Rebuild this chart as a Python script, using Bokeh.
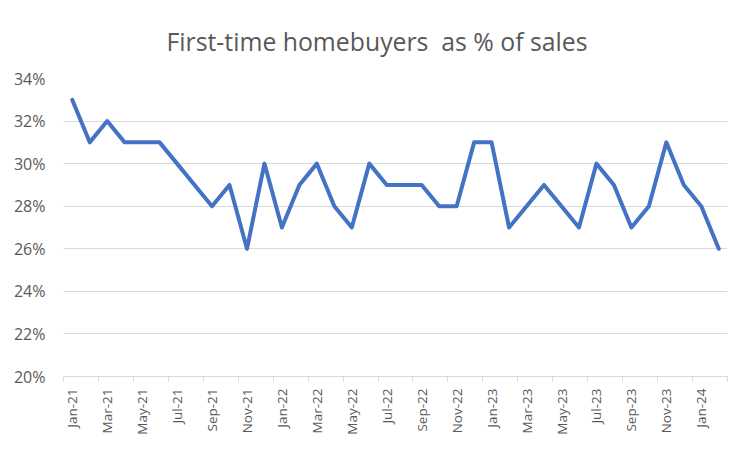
import math
from bokeh.plotting import figure
from bokeh.models import FixedTicker, NumeralTickFormatter, Range1d, ColumnDataSource
from bokeh.embed import file_html
from bokeh.resources import INLINE

months = ["Jan", "Feb", "Mar", "Apr", "May", "Jun", "Jul", "Aug", "Sep", "Oct", "Nov", "Dec"]
years = ["21", "22", "23", "24"]
categories = [f"{m}-{y}" for y in years for m in months][:38]

share_pct = [33, 31, 32, 31, 31, 31, 30, 29, 28, 29, 26, 30,
             27, 29, 30, 28, 27, 30, 29, 29, 29, 28, 28, 31,
             31, 27, 28, 29, 28, 27, 30, 29, 27, 28, 31, 29,
             28, 26]

y_ticks = [0.20, 0.22, 0.24, 0.26, 0.28, 0.30, 0.32, 0.34]

title_text = "First-time homebuyers\u00a0 as % of sales"

idx = list(range(len(categories)))
src = ColumnDataSource(dict(x=idx, y=[v / 100 for v in share_pct]))

grey = "#595959"
gridc = "#d9d9d9"

p = figure(width=737, height=444, output_backend="svg", toolbar_location=None,
           title=title_text,
           x_range=Range1d(-0.5, len(categories) - 0.5),
           y_range=Range1d(0.20, 0.34),
           min_border_left=63, min_border_right=10, min_border_top=78, min_border_bottom=68)

p.title.align = "left"
p.title.offset = 103
p.title.text_font = "Open Sans"
p.title.text_font_size = "24.8px"
p.title.text_font_style = "normal"
p.title.text_color = grey
p.title.standoff = 41

p.outline_line_color = None

p.line("x", "y", source=src, line_color="#4472C4", line_width=4,
       line_join="round", line_cap="round")

# x axis
xa = p.xaxis[0]
major = [i for i in idx if i % 2 == 0]
minor = [i - 0.5 for i in range(0, len(categories) + 1, 2)]
xa.ticker = FixedTicker(ticks=major, minor_ticks=minor)
xa.major_label_overrides = {i: categories[i] for i in major}
xa.major_label_orientation = math.pi / 2
xa.major_label_text_font = "Open Sans"
xa.major_label_text_font_size = "13.5px"
xa.major_label_text_color = grey
xa.major_tick_line_color = None
xa.minor_tick_line_color = gridc
xa.minor_tick_in = 0
xa.minor_tick_out = 5
xa.axis_line_color = gridc
xa.major_label_standoff = 6

# y axis
ya = p.yaxis[0]
ya.ticker = FixedTicker(ticks=y_ticks)
ya.formatter = NumeralTickFormatter(format="0%")
ya.major_label_text_font = "Open Sans"
ya.major_label_text_font_size = "16px"
ya.major_label_text_color = grey
ya.axis_line_color = None
ya.major_tick_line_color = None
ya.minor_tick_line_color = None
ya.major_label_standoff = 12

p.xgrid.grid_line_color = None
p.ygrid.grid_line_color = gridc
p.ygrid.grid_line_width = 1

open("out.html", "w").write(file_html(p, INLINE))
